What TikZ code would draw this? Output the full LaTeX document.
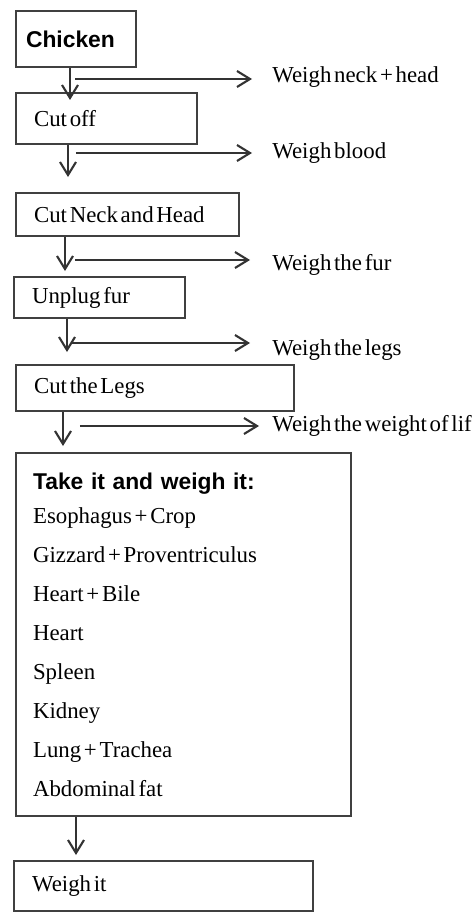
\documentclass[tikz,border=0pt]{standalone}
\usepackage{fontspec}
\setmainfont{Liberation Serif}
\setsansfont{Liberation Sans}
\usepackage{tikz}
\usetikzlibrary{arrows.meta, positioning}

\newcommand{\tightsp}{\spaceskip=0.12em plus 0.02em\relax}
\tikzset{
  stage/.style={draw=black!75, line width=1.2pt, rectangle, anchor=north west, align=left,
    inner xsep=0.36cm, inner ysep=0pt, font=\fontsize{13}{15}\selectfont},
  weigh/.style={anchor=west, inner sep=0pt, font=\fontsize{13}{15}\selectfont\tightsp},
  flow/.style={draw=black!80, line width=1.2pt, -{Straight Barb[length=0.26cm, width=0.32cm]}},
}

\begin{document}
\begin{tikzpicture}[x=0.02cm, y=-0.02cm]
		\useasboundingbox (0,0) rectangle (474,912);
		% Steps:
		\node[stage, inner xsep=0.2cm, text width=2cm, minimum height=1.12cm,
		  font=\sffamily\bfseries\fontsize{13}{15}\selectfont](S1) at (15,10){Chicken};
		\node[stage, text width=2.9cm, minimum height=1.02cm](S2) at (15,92){\tightsp Cut off};
		\node[stage, text width=3.74cm, minimum height=0.86cm](S3) at (15,192){\tightsp Cut Neck and Head};
		\node[stage, text width=2.7cm, minimum height=0.82cm](S4) at (13,276){\tightsp Unplug fur};
		\node[stage, text width=4.84cm, minimum height=0.92cm](S5) at (15,364){\tightsp Cut the Legs};
		\node[stage, inner xsep=0.34cm, text width=6.02cm, minimum height=7.26cm,
		  font=\fontsize{13}{22.2}\selectfont](S6) at (15,452){%
		  {\sffamily\bfseries\fontsize{13}{22.2}\selectfont Take it and weigh it:}\\[-3pt]
		  \tightsp Esophagus + Crop\\ Gizzard + Proventriculus\\ Heart + Bile\\ Heart\\ Spleen\\
		  Kidney\\ Lung + Trachea\\ Abdominal fat};
		\node[stage, text width=5.26cm, minimum height=1cm](S7) at (13,860){\tightsp Weigh it};
		% Weighings:
		\node[weigh](W1) at (272,77){Weigh neck + head};
		\node[weigh](W2) at (272,153){Weigh blood};
		\node[weigh](W3) at (272,265){Weigh the fur};
		\node[weigh](W4) at (272,350){Weigh the legs};
		\node[weigh](W5) at (272,426){Weigh the weight of lif};
		% Branch points:
		\coordinate (B1) at (70,79);
		\coordinate (B2) at (68,153);
		\coordinate (B3) at (65,260);
		\coordinate (B4) at (67,343);
		\coordinate (B5) at (63,426);
		\coordinate (B6) at (76,835);
		% Arrows:
		\draw[flow, shorten >=-0.16cm] (S1.south -| B1) -- (S2.north -| B1);
		\draw[flow, shorten >=0.3cm] (S2.south -| B2) -- (S3.north -| B2);
		\draw[flow, shorten >=0.1cm] (S3.south -| B3) -- (S4.north -| B3);
		\draw[flow, shorten >=0.24cm] (S4.south -| B4) -- (S5.north -| B4);
		\draw[flow, shorten >=0.12cm] (S5.south -| B5) -- (S6.north -| B5);
		\draw[flow, shorten >=0.1cm] (S6.south -| B6) -- (S7.north -| B6);
		\draw[flow, shorten <=0.1cm, shorten >=0.4cm] (B1) -- (B1 -| W1.west);
		\draw[flow, shorten <=0.16cm, shorten >=0.4cm] (B2) -- (W2.west);
		\draw[flow, shorten <=0.2cm, shorten >=0.44cm] (B3) -- (B3 -| W3.west);
		\draw[flow, shorten <=0.1cm, shorten >=0.44cm] (B4) -- (B4 -| W4.west);
		\draw[flow, shorten <=0.34cm, shorten >=0.26cm] (B5) -- (W5.west);
	\end{tikzpicture}
\end{document}
